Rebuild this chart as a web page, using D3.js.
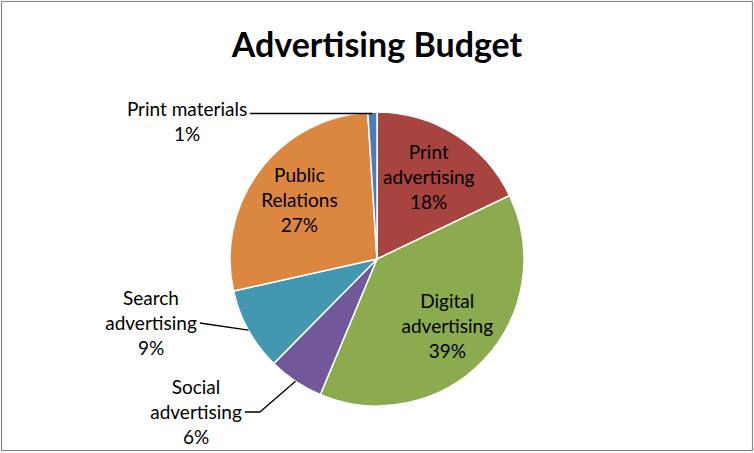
<!DOCTYPE html>
<html>
<head>
<meta charset="utf-8">
<script src="https://cdn.jsdelivr.net/npm/d3@7"></script>
<style>
  body { margin: 0; background: #fff; }
  text { font-family: Lato, "Open Sans", sans-serif; fill: #000; }
</style>
</head>
<body>
<div id="chart"></div>
<script>
const title = "Advertising Budget";
const categories = ["Print advertising", "Digital advertising", "Social advertising",
                    "Search advertising", "Public Relations", "Print materials"];
const values = [17.9, 38.4, 6.1, 9.1, 27.5, 1.0];
const percentLabels = ["18%", "39%", "6%", "9%", "27%", "1%"];
const labelNames = [["Print", "advertising"], ["Digital", "advertising"], ["Social", "advertising"],
                    ["Search", "advertising"], ["Public", "Relations"], ["Print materials"]];
const colors = ["#A7443F", "#8CAB4E", "#71589A", "#4298B0", "#DB8740", "#4A7DBB"];

// labels placed outside the pie, offset of text block centre from pie centre
const outside = {
  "Print materials":    { dx: -190, dy: -137, elbow: 0 },
  "Search advertising": { dx: -226, dy: 64,   elbow: 0 },
  "Social advertising": { dx: -181, dy: 153,  elbow: 15 }
};

const width = 754, height = 453;
const cx = 377, cy = 259, radius = 147;
const lineH = 25;

const svg = d3.select("#chart").append("svg")
    .attr("width", width)
    .attr("height", height);

svg.append("rect")
    .attr("x", 1.5).attr("y", 1.5)
    .attr("width", width - 3).attr("height", height - 4)
    .attr("fill", "#fff")
    .attr("stroke", "#8a8a8a")
    .attr("stroke-width", 1.2);

svg.append("text")
    .attr("x", cx)
    .attr("y", 57)
    .attr("text-anchor", "middle")
    .attr("font-size", 34)
    .attr("font-weight", "bold")
    .text(title);

const data = categories.map((c, i) => ({
  name: c, value: values[i], pct: percentLabels[i], lines: labelNames[i], color: colors[i]
}));

const pie = d3.pie().sort(null).value(d => d.value);
const arcs = pie(data);
const arc = d3.arc().innerRadius(0).outerRadius(radius);
const labelArc = d3.arc().innerRadius(radius * 0.66).outerRadius(radius * 0.66);
const edgeArc = d3.arc().innerRadius(radius).outerRadius(radius);

const g = svg.append("g").attr("transform", `translate(${cx}, ${cy})`);

g.selectAll("path.slice")
    .data(arcs)
    .enter()
    .append("path")
    .attr("class", "slice")
    .attr("d", arc)
    .attr("fill", d => d.data.color)
    .attr("stroke", "#fff")
    .attr("stroke-width", 1.5);

const fontSize = 19;

arcs.forEach(a => {
  const d = a.data;
  const lines = d.lines.concat([d.pct]);
  const o = outside[d.name];
  let x, y;
  if (o) {
    x = o.dx; y = o.dy;
  } else {
    [x, y] = labelArc.centroid(a);
  }
  const t = g.append("text")
      .attr("text-anchor", "middle")
      .attr("font-size", fontSize);
  const top = y - (lines.length - 1) * lineH / 2;
  lines.forEach((l, i) => {
    t.append("tspan")
        .attr("x", x)
        .attr("y", top + i * lineH)
        .attr("dy", "0.35em")
        .text(l);
  });
  if (o) {
    // leader from the right end of the widest line to the slice edge
    const bb = t.node().getBBox();
    const startY = lines.length === 2 ? top + 4 : y;
    const start = [bb.x + bb.width + 3, startY];
    const end = edgeArc.centroid(a);
    const pts = [start];
    if (o.elbow) pts.push([start[0] + o.elbow, startY]);
    if (d.name === "Print materials") pts.push([end[0], startY]);
    else pts.push(end);
    g.append("path")
        .attr("d", d3.line()(pts))
        .attr("fill", "none")
        .attr("stroke", "#000")
        .attr("stroke-width", 1.3);
  }
});
</script>
</body>
</html>
